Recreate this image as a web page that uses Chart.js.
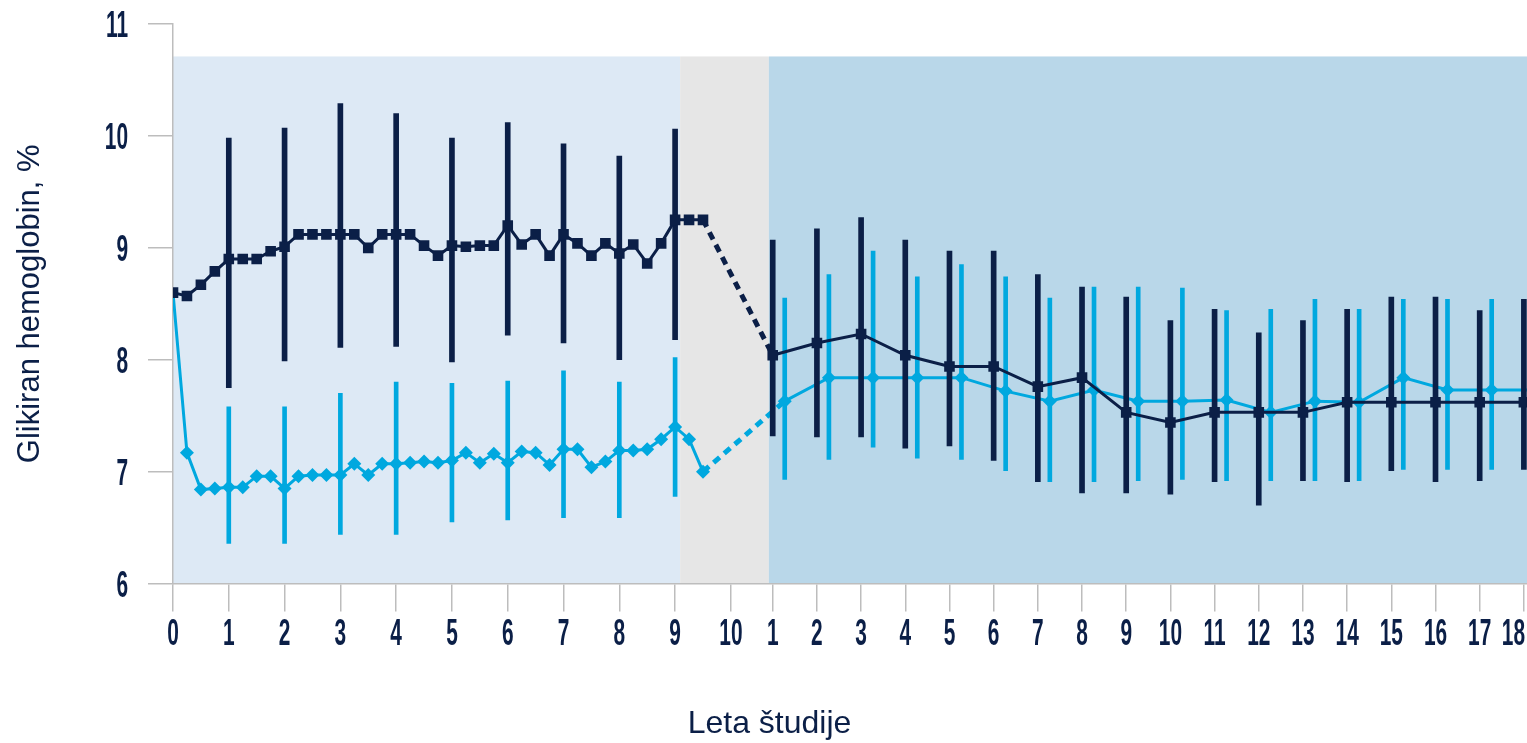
<!DOCTYPE html>
<html>
<head>
<meta charset="utf-8">
<script src="https://cdn.jsdelivr.net/npm/chart.js@4.4.1/dist/chart.umd.min.js"></script>
<style>
  html, body { margin: 0; padding: 0; background: #ffffff; }
  #wrap { width: 1527px; height: 743px; }
</style>
</head>
<body>
<div id="wrap"><canvas id="myChart"></canvas></div>
<script>
// DCCT: quarterly means, years 0 - 9.5
const dcctTimes = [0, 0.25, 0.5, 0.75, 1, 1.25, 1.5, 1.75, 2, 2.25, 2.5, 2.75, 3, 3.25, 3.5, 3.75,
  4, 4.25, 4.5, 4.75, 5, 5.25, 5.5, 5.75, 6, 6.25, 6.5, 6.75, 7, 7.25, 7.5, 7.75,
  8, 8.25, 8.5, 8.75, 9, 9.25, 9.5];
const dcctConv = [8.60, 8.57, 8.67, 8.79, 8.90, 8.90, 8.90, 8.97, 9.01, 9.12, 9.12, 9.12, 9.12, 9.12, 9.00, 9.12,
  9.12, 9.12, 9.02, 8.93, 9.02, 9.01, 9.02, 9.02, 9.20, 9.03, 9.12, 8.93, 9.12, 9.04, 8.93, 9.04,
  8.95, 9.03, 8.86, 9.04, 9.25, 9.25, 9.25];
const dcctInt = [8.60, 7.17, 6.84, 6.85, 6.86, 6.86, 6.96, 6.96, 6.85, 6.96, 6.97, 6.97, 6.97, 7.07, 6.97, 7.07,
  7.07, 7.08, 7.09, 7.08, 7.10, 7.17, 7.08, 7.16, 7.08, 7.18, 7.17, 7.06, 7.20, 7.20, 7.04, 7.09,
  7.19, 7.19, 7.20, 7.29, 7.40, 7.29, 7.00];

// DCCT yearly ranges
const dcctBarYears = [1, 2, 3, 4, 5, 6, 7, 8, 9];
const dcctConvHigh = [9.98, 10.07, 10.29, 10.20, 9.98, 10.12, 9.93, 9.82, 10.06];
const dcctConvLow = [7.75, 7.99, 8.11, 8.12, 7.98, 8.22, 8.15, 8.00, 8.18];
const dcctIntHigh = [7.58, 7.58, 7.70, 7.80, 7.79, 7.81, 7.90, 7.80, 8.02];
const dcctIntLow = [6.36, 6.36, 6.44, 6.44, 6.55, 6.57, 6.59, 6.59, 6.78];

// EDIC: yearly means and ranges, years 1 - 18
const edicYears = [1, 2, 3, 4, 5, 6, 7, 8, 9, 10, 11, 12, 13, 14, 15, 16, 17, 18];
const edicConv = [8.04, 8.15, 8.23, 8.04, 7.94, 7.94, 7.76, 7.84, 7.53, 7.44, 7.53, 7.53, 7.53, 7.62, 7.62, 7.62, 7.62, 7.62];
const edicConvHigh = [9.07, 9.17, 9.27, 9.07, 8.97, 8.97, 8.76, 8.65, 8.56, 8.35, 8.45, 8.24, 8.35, 8.45, 8.56, 8.56, 8.44, 8.54];
const edicConvLow = [7.32, 7.31, 7.31, 7.21, 7.23, 7.10, 6.91, 6.81, 6.81, 6.80, 6.91, 6.70, 6.92, 6.91, 7.01, 6.91, 6.92, 7.02];
const edicInt = [7.63, 7.84, 7.84, 7.84, 7.84, 7.72, 7.63, 7.73, 7.63, 7.63, 7.64, 7.53, 7.63, 7.62, 7.84, 7.73, 7.73, 7.73];
const edicIntHigh = [8.55, 8.76, 8.97, 8.74, 8.85, 8.74, 8.55, 8.65, 8.65, 8.64, 8.44, 8.45, 8.54, 8.45, 8.54, 8.54, 8.54, 8.54];
const edicIntLow = [6.93, 7.11, 7.22, 7.12, 7.11, 7.01, 6.91, 6.91, 6.92, 6.93, 6.92, 6.92, 6.92, 6.92, 7.02, 7.02, 7.02, 7.02];

// axis labels
const dcctTickYears = [0, 1, 2, 3, 4, 5, 6, 7, 8, 9, 10];
const edicTickYears = [1, 2, 3, 4, 5, 6, 7, 8, 9, 10, 11, 12, 13, 14, 15, 16, 17, 18];
const yTickValues = [6, 7, 8, 9, 10, 11];
const yTitle = 'Glikiran hemoglobin, %';
const xTitle = 'Leta študije';

// broken time axis: EDIC years are packed tighter after the DCCT part
const EDIC_START = 10.75;
const EDIC_STEP = 0.792;
const DODGE = 0.215;
const X_MAX = 24.27;
const edicPos = k => EDIC_START + (k - 1) * EDIC_STEP;

const NAVY = '#0b1f47';
const CYAN = '#00a8df';
const AXIS_GREY = '#bdbdbd';
const TICK_FONT = "bold 36px 'Liberation Sans', Arial, sans-serif";
const SQUEEZE = 0.58;
const TITLE_FONT = "'Liberation Sans', Arial, sans-serif";

const bands = [
  { from: 0, to: 9.09, color: '#dde9f5' },
  { from: 9.09, to: 10.68, color: '#e6e6e6' },
  { from: 10.68, to: X_MAX, color: '#b9d7e9' }
];
const BAND_TOP = 10.71;

const bandPlugin = {
  id: 'bands',
  beforeDraw(chart) {
    const { ctx, chartArea, scales } = chart;
    ctx.save();
    ctx.fillStyle = '#ffffff';
    ctx.fillRect(0, 0, chart.width, chart.height);
    const top = scales.y.getPixelForValue(BAND_TOP);
    bands.forEach(b => {
      const l = scales.x.getPixelForValue(b.from);
      const r = scales.x.getPixelForValue(b.to);
      ctx.fillStyle = b.color;
      ctx.fillRect(l, top, r - l, chartArea.bottom - top);
    });
    ctx.restore();
  }
};

// narrow, tall tick numerals like the original artwork
const squeezed = (ctx, text, x, y, align) => {
  ctx.save();
  ctx.translate(x, y);
  ctx.scale(SQUEEZE, 1);
  ctx.textAlign = align;
  ctx.fillText(text, 0, 0);
  ctx.restore();
};

const labelPlugin = {
  id: 'tickLabels',
  afterDraw(chart) {
    const { ctx, chartArea, scales } = chart;
    ctx.save();
    ctx.font = TICK_FONT;
    ctx.fillStyle = NAVY;
    ctx.textBaseline = 'alphabetic';
    const baseY = scales.x.top + 61;
    tickValues.forEach((v, i) => {
      const w = ctx.measureText(tickLabels[i]).width * SQUEEZE;
      let px = scales.x.getPixelForValue(v);
      px = Math.min(px, chart.width - w / 2 - 2);
      squeezed(ctx, tickLabels[i], px, baseY, 'center');
    });
    yTickValues.forEach(v => {
      squeezed(ctx, String(v), chartArea.left - 45, scales.y.getPixelForValue(v) + 13, 'right');
    });
    ctx.restore();
  }
};

const lastDcct = dcctTimes.length - 1;
const bridge = (c, v) => c.p0DataIndex === lastDcct ? v : undefined;

const convLine = dcctTimes.map((t, i) => ({ x: t, y: dcctConv[i] }))
  .concat(edicYears.map((k, i) => ({ x: edicPos(k), y: edicConv[i] })));
const intLine = dcctTimes.map((t, i) => ({ x: t, y: dcctInt[i] }))
  .concat(edicYears.map((k, i) => ({ x: edicPos(k) + DODGE, y: edicInt[i] })));
const convBars = dcctBarYears.map((t, i) => ({ x: t, y: [dcctConvLow[i], dcctConvHigh[i]] }))
  .concat(edicYears.map((k, i) => ({ x: edicPos(k), y: [edicConvLow[i], edicConvHigh[i]] })));
const intBars = dcctBarYears.map((t, i) => ({ x: t, y: [dcctIntLow[i], dcctIntHigh[i]] }))
  .concat(edicYears.map((k, i) => ({ x: edicPos(k) + DODGE, y: [edicIntLow[i], edicIntHigh[i]] })));

const tickValues = dcctTickYears.concat(edicTickYears.map(edicPos));
const tickLabels = dcctTickYears.concat(edicTickYears).map(String);

const config = {
  type: 'line',
  data: {
    datasets: [
      {
        label: 'Konvencionalno',
        data: convLine,
        borderColor: NAVY,
        backgroundColor: NAVY,
        borderWidth: 3,
        pointStyle: 'rect',
        pointRadius: 7.5,
        pointBorderWidth: 0,
        tension: 0,
        order: 1,
        segment: {
          borderDash: c => bridge(c, [8, 6]),
          borderWidth: c => bridge(c, 5)
        }
      },
      {
        type: 'bar',
        label: 'Konvencionalno razpon',
        data: convBars,
        backgroundColor: NAVY,
        barThickness: 5,
        maxBarThickness: 5,
        grouped: false,
        order: 2
      },
      {
        label: 'Intenzivno',
        data: intLine,
        borderColor: CYAN,
        backgroundColor: CYAN,
        borderWidth: 3,
        pointStyle: 'rectRot',
        pointRadius: c => c.dataIndex === 0 ? 0 : 7,
        pointBorderWidth: 0,
        tension: 0,
        order: 3,
        segment: {
          borderDash: c => bridge(c, [8, 6]),
          borderWidth: c => bridge(c, 5)
        }
      },
      {
        type: 'bar',
        label: 'Intenzivno razpon',
        data: intBars,
        backgroundColor: CYAN,
        barThickness: 4,
        maxBarThickness: 4,
        grouped: false,
        order: 4
      }
    ]
  },
  options: {
    responsive: true,
    maintainAspectRatio: false,
    animation: false,
    layout: { autoPadding: false, padding: { top: 24, left: 12, right: 0, bottom: 0 } },
    plugins: {
      legend: { display: false },
      tooltip: { enabled: false },
      title: {
        display: true,
        text: xTitle,
        position: 'bottom',
        color: NAVY,
        font: { family: TITLE_FONT, size: 32, weight: 'normal' },
        padding: { top: 31, bottom: 0 }
      }
    },
    scales: {
      x: {
        type: 'linear',
        min: 0,
        max: X_MAX,
        offset: false,
        grid: { offset: false, drawOnChartArea: false, drawTicks: true, tickLength: 28, color: AXIS_GREY, lineWidth: 1.5 },
        border: { display: true, color: AXIS_GREY, width: 1.5 },
        afterBuildTicks: s => { s.ticks = tickValues.map(v => ({ value: v })); },
        afterFit: s => { s.height = 90; s.paddingLeft = 0; s.paddingRight = 0; },
        ticks: { display: false, autoSkip: false, maxRotation: 0, minRotation: 0 }
      },
      y: {
        min: 6,
        max: 11,
        grid: { offset: false, drawOnChartArea: false, drawTicks: true, tickLength: 25, color: AXIS_GREY, lineWidth: 1.5 },
        border: { display: true, color: AXIS_GREY, width: 1.5 },
        afterFit: s => { s.width = 161; s.paddingTop = 0; s.paddingBottom = 0; },
        ticks: { display: false, stepSize: 1 },
        title: {
          display: true,
          text: yTitle,
          color: NAVY,
          font: { family: TITLE_FONT, size: 31, weight: 'normal' },
          padding: { top: 0, bottom: 0 }
        }
      }
    }
  },
  plugins: [bandPlugin, labelPlugin]
};

const ctx = document.getElementById('myChart');
new Chart(ctx, config);
</script>
</body>
</html>
